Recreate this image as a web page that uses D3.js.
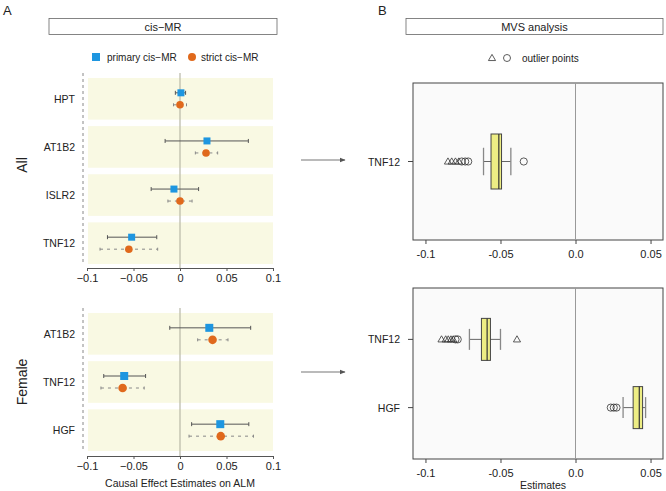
<!DOCTYPE html>
<html>
<head>
<meta charset="utf-8">
<script src="https://cdn.jsdelivr.net/npm/d3@7"></script>
<style>
  body { margin: 0; background: #fff; }
  svg { font-family: "Liberation Sans", Arial, sans-serif; display: block; }
</style>
</head>
<body>
<svg id="chart" width="666" height="491"></svg>
<script>
// panel A : cis-MR estimates
const allGenes = ['HPT', 'AT1B2', 'ISLR2', 'TNF12'];
const allPrimaryEst = [0.001, 0.029, -0.0065, -0.052];
const allPrimaryLo = [-0.005, -0.016, -0.031, -0.078];
const allPrimaryHi = [0.006, 0.0735, 0.020, -0.025];
const allStrictEst = [0.0, 0.028, 0.0, -0.055];
const allStrictLo = [-0.007, 0.0165, -0.013, -0.086];
const allStrictHi = [0.007, 0.0405, 0.013, -0.024];

const femGenes = ['AT1B2', 'TNF12', 'HGF'];
const femPrimaryEst = [0.0315, -0.060, 0.0433];
const femPrimaryLo = [-0.011, -0.082, 0.0125];
const femPrimaryHi = [0.076, -0.037, 0.074];
const femStrictEst = [0.035, -0.0617, 0.0438];
const femStrictLo = [0.019, -0.085, 0.0097];
const femStrictHi = [0.0516, -0.0385, 0.079];

const forestTicks = [-0.1, -0.05, 0, 0.05, 0.1];

// panel B : MVS analysis boxplots  [low whisker, q1, median, q3, high whisker]
const mvsAllGenes = ['TNF12'];
const mvsAllBox = [[-0.0613, -0.0563, -0.0511, -0.0493, -0.0431]];
const mvsAllTriangles = [[-0.085, -0.0825, -0.080, -0.0778]];
const mvsAllCircles = [[-0.0758, -0.0735, -0.0715, -0.0345]];

const mvsFemGenes = ['TNF12', 'HGF'];
const mvsFemBox = [[-0.0707, -0.0627, -0.0589, -0.0567, -0.050],
                   [0.0317, 0.0384, 0.0425, 0.0447, 0.0467]];
const mvsFemTriangles = [[-0.0893, -0.0865, -0.0848, -0.083, -0.0815, -0.039], []];
const mvsFemCircles = [[-0.080, -0.0785], [0.0235, 0.0255, 0.0273]];

const mvsTicks = [-0.1, -0.05, 0, 0.05];

const BLUE = '#1e96e0';
const ORANGE = '#e0691c';

var svg = d3.select('#chart');

const text = function(x, y, s, size, anchor) {
  return svg.append('text').attr('x', x).attr('y', y).text(s)
    .attr('font-size', size).attr('text-anchor', anchor || 'start').attr('fill', '#222');
};

const title_box = function(x0, x1, label) {
  svg.append('rect').attr('x', x0).attr('y', 18.5).attr('width', x1 - x0).attr('height', 16)
    .attr('fill', '#fff').attr('stroke', '#666').attr('stroke-width', 0.8);
  text((x0 + x1) / 2, 30.5, label, 11, 'middle');
};

// ---------- panel A ----------
var xA = d3.scaleLinear().domain([-0.1, 0.1]).range([87, 273]);

text(3, 15, 'A', 13);
title_box(49, 277, 'cis\u2212MR');

svg.append('rect').attr('x', 92).attr('y', 53).attr('width', 8).attr('height', 8).attr('fill', BLUE);
text(107, 61, 'primary cis\u2212MR', 10);
svg.append('circle').attr('cx', 192).attr('cy', 57).attr('r', 4).attr('fill', ORANGE);
text(201, 61, 'strict cis\u2212MR', 10);

const forest_panel = function(genes, pEst, pLo, pHi, sEst, sLo, sHi, y0, y1, axisY, group, groupY, mark) {
  var yB = d3.scaleBand().domain(genes).range([y0, y1]).paddingInner(0.135);
  var g = svg.append('g');

  g.append('line').attr('x1', 83).attr('x2', 83).attr('y1', y0 - 5).attr('y2', y1)
    .attr('stroke', '#888').attr('stroke-dasharray', '3,3');

  g.selectAll('.band').data(genes).enter().append('rect')
    .attr('x', xA(-0.1) + 1).attr('width', xA(0.1) - xA(-0.1) - 1)
    .attr('y', d => yB(d)).attr('height', yB.bandwidth())
    .attr('fill', '#f9f9e3');

  g.append('line').attr('x1', xA(0)).attr('x2', xA(0)).attr('y1', y0 - 5).attr('y2', axisY)
    .attr('stroke', '#b7b7a6').attr('stroke-width', 1.2);

  genes.forEach(function(gene, i) {
    var cy = yB(gene) + yB.bandwidth() / 2;
    text(75, cy + 4, gene, 10.5, 'end');

    var yp = cy - 6, ys = cy + 6;
    g.append('line').attr('x1', xA(pLo[i])).attr('x2', xA(pHi[i])).attr('y1', yp).attr('y2', yp)
      .attr('stroke', '#555').attr('stroke-width', 1);
    [pLo[i], pHi[i]].forEach(function(v) {
      g.append('line').attr('x1', xA(v)).attr('x2', xA(v)).attr('y1', yp - 2).attr('y2', yp + 2)
        .attr('stroke', '#555');
    });
    g.append('line').attr('x1', xA(sLo[i])).attr('x2', xA(sHi[i])).attr('y1', ys).attr('y2', ys)
      .attr('stroke', '#888').attr('stroke-dasharray', '3,4');
    [sLo[i], sHi[i]].forEach(function(v) {
      g.append('line').attr('x1', xA(v)).attr('x2', xA(v)).attr('y1', ys - 1.5).attr('y2', ys + 1.5)
        .attr('stroke', '#888');
    });
    g.append('rect').attr('x', xA(pEst[i]) - mark / 2).attr('y', yp - mark / 2)
      .attr('width', mark).attr('height', mark).attr('fill', BLUE);
    g.append('circle').attr('cx', xA(sEst[i])).attr('cy', ys).attr('r', mark / 2 + 0.3).attr('fill', ORANGE);
  });

  var ax = svg.append('g').attr('transform', 'translate(0,' + axisY + ')')
    .call(d3.axisBottom(xA).tickValues(forestTicks).tickSize(3).tickSizeOuter(0)
      .tickFormat(d => String(d).replace('-', '\u2212')));
  ax.selectAll('path, line').attr('stroke', '#555');
  ax.selectAll('text').attr('font-size', 11).attr('fill', '#222')
    .attr('font-family', '"Liberation Sans", Arial, sans-serif');

  text(0, 0, group, 14, 'middle').attr('transform', 'translate(27,' + groupY + ') rotate(-90)');
};

forest_panel(allGenes, allPrimaryEst, allPrimaryLo, allPrimaryHi, allStrictEst, allStrictLo, allStrictHi,
  78, 264, 268, 'All', 165, 7);
forest_panel(femGenes, femPrimaryEst, femPrimaryLo, femPrimaryHi, femStrictEst, femStrictLo, femStrictHi,
  313, 451, 456, 'Female', 382, 8);

text(180, 487, 'Causal Effect Estimates on ALM', 10.5, 'middle');

// arrows between panels
svg.append('defs').append('marker').attr('id', 'arr').attr('viewBox', '0 0 10 10')
  .attr('refX', 9).attr('refY', 5).attr('markerWidth', 5).attr('markerHeight', 5).attr('orient', 'auto')
  .append('path').attr('d', 'M0,1 L10,5 L0,9 z').attr('fill', '#555');
[160, 372].forEach(function(y) {
  svg.append('line').attr('x1', 301).attr('x2', 345).attr('y1', y).attr('y2', y)
    .attr('stroke', '#777').attr('stroke-width', 1.2).attr('marker-end', 'url(#arr)');
});

// ---------- panel B ----------
var xB = d3.scaleLinear().domain([-0.1083, 0.0583]).range([413, 663]);

text(378, 15, 'B', 13);
title_box(406, 663, 'MVS analysis');

const tri = d3.symbol().type(d3.symbolTriangle).size(22);
svg.append('path').attr('d', tri()).attr('transform', 'translate(492,58.5)')
  .attr('fill', 'none').attr('stroke', '#333').attr('stroke-width', 0.8);
svg.append('circle').attr('cx', 507).attr('cy', 58).attr('r', 3.5)
  .attr('fill', 'none').attr('stroke', '#333').attr('stroke-width', 0.8);
text(522, 62, 'outlier points', 10);

const box_panel = function(genes, boxes, tris, circs, y0, y1, pad, boxH) {
  var yP = d3.scalePoint().domain(genes).range([y0, y1]).padding(pad);
  var g = svg.append('g');

  g.append('rect').attr('x', xB.range()[0]).attr('y', y0)
    .attr('width', xB.range()[1] - xB.range()[0]).attr('height', y1 - y0)
    .attr('fill', '#fafafa').attr('stroke', '#444').attr('stroke-width', 1);
  g.append('line').attr('x1', xB(0)).attr('x2', xB(0)).attr('y1', y0).attr('y2', y1)
    .attr('stroke', '#999').attr('stroke-width', 1);

  genes.forEach(function(gene, i) {
    var cy = yP(gene), b = boxes[i];
    g.append('line').attr('x1', xB.range()[0] - 5).attr('x2', xB.range()[0]).attr('y1', cy).attr('y2', cy)
      .attr('stroke', '#444');
    text(400, cy + 4, gene, 10.5, 'end');

    g.append('line').attr('x1', xB(b[0])).attr('x2', xB(b[4])).attr('y1', cy).attr('y2', cy)
      .attr('stroke', '#666');
    [b[0], b[4]].forEach(function(v) {
      g.append('line').attr('x1', xB(v)).attr('x2', xB(v))
        .attr('y1', cy - boxH * 0.25).attr('y2', cy + boxH * 0.25).attr('stroke', '#888').attr('stroke-width', 1.3);
    });
    g.append('rect').attr('x', xB(b[1])).attr('width', xB(b[3]) - xB(b[1]))
      .attr('y', cy - boxH / 2).attr('height', boxH)
      .attr('fill', '#eded84').attr('stroke', '#444').attr('stroke-width', 1);
    g.append('line').attr('x1', xB(b[2])).attr('x2', xB(b[2]))
      .attr('y1', cy - boxH / 2).attr('y2', cy + boxH / 2).attr('stroke', '#333').attr('stroke-width', 1.2);

    tris[i].forEach(function(v) {
      g.append('path').attr('d', tri()).attr('transform', 'translate(' + xB(v) + ',' + (cy + 0.5) + ')')
        .attr('fill', 'none').attr('stroke', '#333').attr('stroke-width', 0.8);
    });
    circs[i].forEach(function(v) {
      g.append('circle').attr('cx', xB(v)).attr('cy', cy).attr('r', 3.6)
        .attr('fill', 'none').attr('stroke', '#333').attr('stroke-width', 0.8);
    });
  });

  var ax = svg.append('g').attr('transform', 'translate(0,' + y1 + ')')
    .call(d3.axisBottom(xB).tickValues(mvsTicks).tickSize(4).tickSizeOuter(0)
      .tickFormat(d => d === 0 ? '0.0' : String(d)));
  ax.select('.domain').remove();
  ax.selectAll('line').attr('stroke', '#444');
  ax.selectAll('text').attr('font-size', 11).attr('fill', '#222').attr('dy', '1em')
    .attr('font-family', '"Liberation Sans", Arial, sans-serif');
};

box_panel(mvsAllGenes, mvsAllBox, mvsAllTriangles, mvsAllCircles, 83, 240, 0.5, 55);
box_panel(mvsFemGenes, mvsFemBox, mvsFemTriangles, mvsFemCircles, 288, 459, 0.753, 42);

text(543, 489, 'Estimates', 10.5, 'middle');
</script>
</body>
</html>
